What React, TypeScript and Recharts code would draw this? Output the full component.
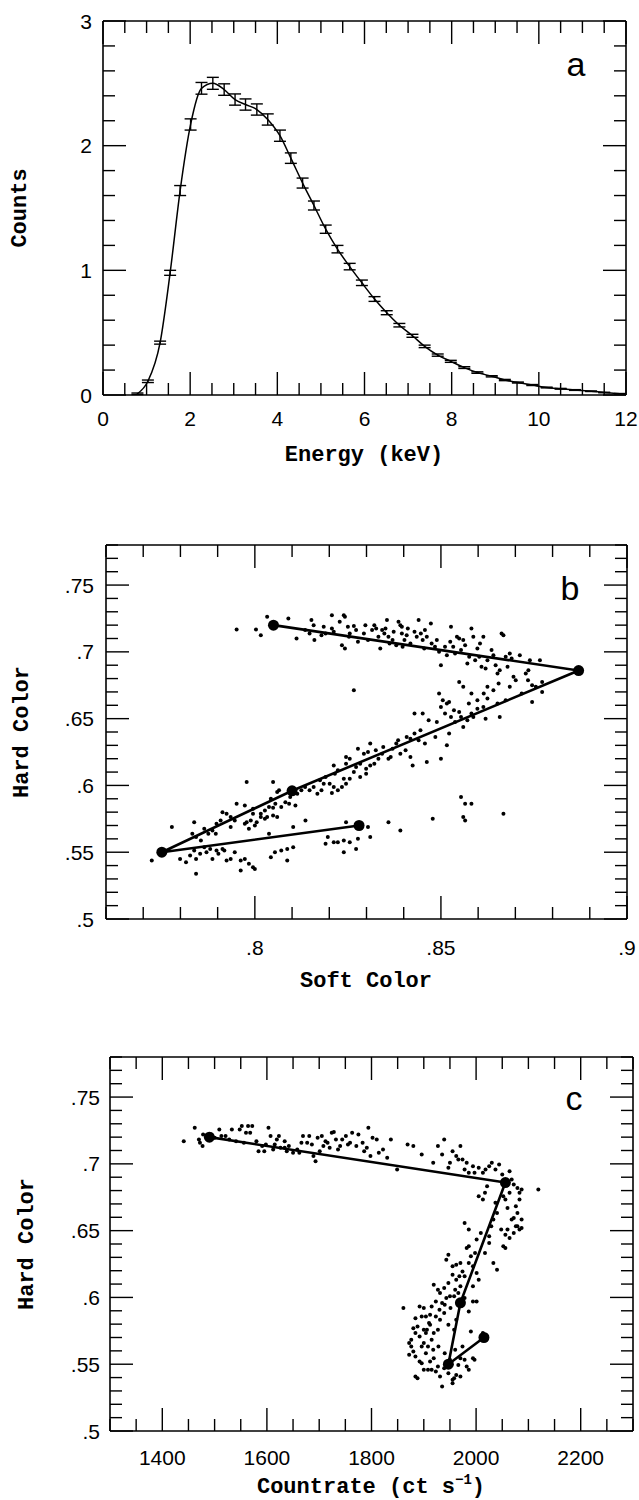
import React from 'react'
import { ComposedChart, ScatterChart, Line, ErrorBar, Scatter, XAxis, YAxis } from 'recharts'

// panel a: spectrum (keV, counts, 1-sigma error)
const energyKeV = [0.79, 1.03, 1.31, 1.54, 1.77, 2.01, 2.26, 2.52, 2.78, 3.03, 3.27, 3.53, 3.78, 4.06, 4.31, 4.58, 4.84, 5.11, 5.38, 5.66, 5.94, 6.23, 6.51, 6.8, 7.1, 7.38, 7.68, 7.98, 8.29, 8.59, 8.92, 9.22, 9.52, 9.85, 10.18, 10.5, 10.83, 11.2, 11.5, 11.86]
const counts = [0.01, 0.11, 0.42, 0.98, 1.64, 2.17, 2.46, 2.5, 2.45, 2.37, 2.33, 2.29, 2.21, 2.08, 1.9, 1.7, 1.52, 1.33, 1.17, 1.03, 0.9, 0.77, 0.66, 0.56, 0.475, 0.39, 0.32, 0.27, 0.22, 0.18, 0.15, 0.12, 0.1, 0.08, 0.06, 0.05, 0.04, 0.03, 0.02, 0.01]
const countsErr = [0.006, 0.01, 0.012, 0.02, 0.04, 0.045, 0.047, 0.048, 0.046, 0.045, 0.045, 0.045, 0.045, 0.045, 0.042, 0.04, 0.036, 0.033, 0.03, 0.026, 0.022, 0.019, 0.016, 0.014, 0.012, 0.01, 0.009, 0.008, 0.007, 0.006, 0.005, 0.005, 0.004, 0.004, 0.003, 0.003, 0.003, 0.002, 0.002, 0.002]

// panel b: soft colour vs hard colour
const colorB: [number, number][] = [
  [0.7951, 0.7168], [0.8003, 0.7168], [0.8016, 0.7125], [0.8033, 0.7263], [0.809, 0.725], [0.8112, 0.71], [0.8152, 0.7238], [0.8158, 0.72],
  [0.8147, 0.7138], [0.816, 0.7088], [0.8179, 0.7125], [0.819, 0.7138], [0.8207, 0.7175], [0.8207, 0.7275], [0.8212, 0.715], [0.8228, 0.7225],
  [0.8239, 0.7275], [0.8242, 0.7263], [0.8234, 0.705], [0.8242, 0.7025], [0.825, 0.7188], [0.8253, 0.7113], [0.8266, 0.7193], [0.8272, 0.7163],
  [0.8277, 0.7075], [0.8293, 0.7138], [0.8297, 0.72], [0.8304, 0.7088], [0.8321, 0.72], [0.8326, 0.7175], [0.8332, 0.7113], [0.8337, 0.7025],
  [0.8342, 0.7163], [0.8348, 0.7138], [0.8351, 0.7175], [0.8359, 0.7113], [0.8362, 0.7063], [0.837, 0.7088], [0.8373, 0.715], [0.838, 0.705],
  [0.8386, 0.7225], [0.8391, 0.72], [0.8395, 0.7138], [0.8397, 0.7038], [0.8402, 0.7088], [0.8408, 0.7125], [0.8411, 0.7175], [0.8418, 0.7063],
  [0.8429, 0.715], [0.8435, 0.7113], [0.844, 0.7238], [0.8446, 0.7138], [0.8451, 0.7088], [0.8457, 0.7163], [0.8462, 0.7113], [0.8473, 0.7213],
  [0.8475, 0.7063], [0.8484, 0.7038], [0.8489, 0.7088], [0.8495, 0.7], [0.85, 0.69], [0.8511, 0.7038], [0.8516, 0.6975], [0.8527, 0.7188],
  [0.8533, 0.7038], [0.8538, 0.6988], [0.8543, 0.7113], [0.8549, 0.71], [0.8554, 0.7013], [0.856, 0.7088], [0.8565, 0.705], [0.8571, 0.6913],
  [0.8576, 0.6963], [0.8582, 0.7175], [0.8587, 0.7113], [0.8592, 0.6938], [0.8598, 0.7025], [0.8603, 0.6963], [0.8609, 0.6888], [0.8614, 0.7113],
  [0.862, 0.6875], [0.8625, 0.6938], [0.8636, 0.7013], [0.8641, 0.6975], [0.8647, 0.69], [0.8652, 0.6838], [0.8658, 0.6863], [0.8663, 0.7138],
  [0.8668, 0.7125], [0.8674, 0.6963], [0.8679, 0.6888], [0.8685, 0.6988], [0.869, 0.695], [0.8701, 0.6788], [0.8712, 0.6975], [0.8728, 0.6838],
  [0.8734, 0.6788], [0.8739, 0.6938], [0.8745, 0.675], [0.8772, 0.6775], [0.8772, 0.67], [0.8766, 0.6938],
  [0.8549, 0.6775], [0.856, 0.6738], [0.8582, 0.6688], [0.8598, 0.6638], [0.8625, 0.665], [0.8614, 0.6588], [0.8658, 0.6513], [0.8652, 0.6613],
  [0.8582, 0.6538], [0.8598, 0.6575], [0.8625, 0.6738], [0.8641, 0.6713], [0.8674, 0.6638], [0.8717, 0.6688], [0.8745, 0.6625], [0.8685, 0.6738],
  [0.8495, 0.6688], [0.8505, 0.6638], [0.8516, 0.6613], [0.85, 0.6588], [0.8511, 0.6538], [0.8522, 0.6625], [0.8429, 0.6538], [0.8451, 0.6538],
  [0.8467, 0.6488], [0.8489, 0.6475], [0.8527, 0.6513], [0.8538, 0.6475], [0.8554, 0.6513], [0.8549, 0.655], [0.856, 0.6438], [0.8571, 0.6488],
  [0.8587, 0.6513], [0.862, 0.65], [0.8522, 0.6388], [0.8516, 0.63], [0.85, 0.62], [0.8462, 0.6175], [0.8429, 0.6388], [0.844, 0.6338],
  [0.8457, 0.6313], [0.8418, 0.635], [0.8408, 0.6363], [0.838, 0.6313], [0.837, 0.6275], [0.8391, 0.6238], [0.8418, 0.6213], [0.8424, 0.615],
  [0.8342, 0.6238], [0.8359, 0.62], [0.8332, 0.62], [0.8321, 0.6163], [0.831, 0.615], [0.8299, 0.6125], [0.8283, 0.6163], [0.8272, 0.6138],
  [0.8293, 0.6238], [0.8277, 0.6275], [0.831, 0.6313], [0.8304, 0.625], [0.8255, 0.62], [0.8245, 0.6163], [0.8266, 0.61], [0.8283, 0.6063],
  [0.8299, 0.6088], [0.8255, 0.605], [0.8239, 0.605], [0.8245, 0.6013], [0.8234, 0.5988], [0.8223, 0.5963], [0.8212, 0.5988], [0.8207, 0.5943],
  [0.8201, 0.6013], [0.8212, 0.615], [0.8223, 0.6113], [0.819, 0.6063], [0.8185, 0.6013], [0.8179, 0.5963], [0.8168, 0.5938], [0.8158, 0.5988],
  [0.8147, 0.5963], [0.8125, 0.5963], [0.8114, 0.5938], [0.8109, 0.585], [0.8092, 0.5863], [0.8082, 0.5875], [0.8071, 0.5838], [0.806, 0.595],
  [0.8049, 0.6025], [0.8043, 0.59], [0.8038, 0.5838], [0.8027, 0.5813], [0.8016, 0.5788], [0.8005, 0.5725], [0.7995, 0.5825], [0.7989, 0.5738],
  [0.7978, 0.5725], [0.7973, 0.5713], [0.7984, 0.5675], [0.8, 0.57], [0.8016, 0.5763], [0.8033, 0.5763], [0.8049, 0.5775], [0.806, 0.5763],
  [0.8065, 0.5963], [0.8049, 0.5833], [0.8027, 0.575], [0.7973, 0.585], [0.7978, 0.6025], [0.7951, 0.5863], [0.7946, 0.5738], [0.7935, 0.5763],
  [0.7924, 0.5788], [0.7913, 0.58], [0.7908, 0.5738], [0.7897, 0.5713], [0.7886, 0.5663], [0.7875, 0.5638], [0.7864, 0.5675], [0.7842, 0.5613],
  [0.7837, 0.5725], [0.7832, 0.5638], [0.7864, 0.5538], [0.7853, 0.5488], [0.7842, 0.545], [0.7837, 0.5513], [0.787, 0.55], [0.788, 0.5525],
  [0.7886, 0.545], [0.7897, 0.5513], [0.7902, 0.5488], [0.7913, 0.5525], [0.7918, 0.5513], [0.7924, 0.5438], [0.7935, 0.545], [0.7946, 0.55],
  [0.7962, 0.5438], [0.7973, 0.545], [0.7984, 0.5413], [0.7995, 0.5388], [0.7962, 0.5363], [0.8, 0.5375], [0.8038, 0.5638], [0.8043, 0.5463],
  [0.8054, 0.55], [0.8071, 0.5513], [0.8087, 0.5525], [0.8103, 0.5688], [0.8136, 0.5738], [0.8087, 0.5438], [0.8103, 0.5538], [0.7799, 0.545],
  [0.7815, 0.5425], [0.7777, 0.5688], [0.7723, 0.5438], [0.7826, 0.5475], [0.7842, 0.5338], [0.819, 0.5563], [0.8196, 0.5613], [0.8212, 0.5575],
  [0.8223, 0.5575], [0.8239, 0.5588], [0.8245, 0.5725], [0.8239, 0.55], [0.8255, 0.5575], [0.8272, 0.5525], [0.8277, 0.56], [0.8304, 0.5688],
  [0.831, 0.5613], [0.8359, 0.5725], [0.8391, 0.5663], [0.8478, 0.575], [0.8554, 0.5913], [0.8565, 0.5863], [0.8582, 0.5863], [0.856, 0.5763],
  [0.8565, 0.5738], [0.8668, 0.5788], [0.8266, 0.6713], [0.8755, 0.6738],
  [0.8325, 0.6263], [0.8345, 0.6288], [0.8365, 0.6213], [0.8385, 0.6338], [0.8215, 0.6088], [0.8175, 0.6038], [0.8135, 0.5988], [0.8245, 0.6213],
  [0.8095, 0.5913], [0.8055, 0.5863], [0.7995, 0.5788], [0.7935, 0.5688], [0.7895, 0.5638], [0.7855, 0.5588], [0.8405, 0.6263], [0.8445, 0.6413],
  [0.8485, 0.6363], [0.8535, 0.6563], [0.8575, 0.6613], [0.8615, 0.6688], [0.8655, 0.6763], [0.8695, 0.6813], [0.8735, 0.6863], [0.8395, 0.7188],
  [0.8315, 0.7163], [0.8255, 0.7138], [0.8355, 0.7238], [0.8455, 0.7025], [0.8525, 0.7075], [0.8605, 0.7063], [0.8185, 0.7188], [0.8135, 0.7163],
]

// panel c: countrate vs hard colour
const colorC: [number, number][] = [
  [1441, 0.717], [1462, 0.727], [1470, 0.7183], [1477, 0.7133], [1478, 0.722], [1486, 0.7208], [1494, 0.722], [1509, 0.7258],
  [1521, 0.7208], [1533, 0.7258], [1541, 0.717], [1548, 0.7258], [1552, 0.7283], [1560, 0.7233], [1564, 0.7283], [1568, 0.7233],
  [1572, 0.7283], [1580, 0.717], [1584, 0.7095], [1591, 0.7133], [1603, 0.727], [1607, 0.7208], [1615, 0.7145], [1619, 0.7183],
  [1623, 0.7208], [1626, 0.712], [1634, 0.717], [1642, 0.7133], [1650, 0.7083], [1658, 0.7108], [1666, 0.7158], [1669, 0.7208],
  [1677, 0.7158], [1681, 0.7208], [1689, 0.7058], [1693, 0.702], [1697, 0.7195], [1705, 0.7208], [1712, 0.717], [1716, 0.7158],
  [1720, 0.712], [1724, 0.7233], [1728, 0.7238], [1732, 0.7183], [1740, 0.7133], [1744, 0.7183], [1751, 0.7208], [1763, 0.7233],
  [1771, 0.7133], [1783, 0.7158], [1791, 0.712], [1794, 0.727], [1798, 0.7058], [1802, 0.7195], [1814, 0.7083], [1822, 0.7108],
  [1837, 0.7183], [1849, 0.6958], [1869, 0.7145], [1880, 0.7133], [1896, 0.707], [1927, 0.7133], [1935, 0.707], [1939, 0.7183],
  [1947, 0.697], [1955, 0.7095], [1966, 0.7033], [1970, 0.7133], [1974, 0.7033], [1978, 0.6958], [1986, 0.6933], [1997, 0.6933],
  [2005, 0.697], [2013, 0.6933], [2025, 0.6983], [2037, 0.6958], [2044, 0.6995], [2064, 0.6945], [2068, 0.6883], [1513, 0.7208],
  [1595, 0.7095], [1634, 0.712], [1701, 0.7095], [1759, 0.7158], [1775, 0.722], [1962, 0.7058], [1994, 0.6983],
  [1472, 0.7158], [1500, 0.7195], [1528, 0.7183], [1556, 0.7158], [1598, 0.7145], [1612, 0.7108], [1638, 0.7095], [1662, 0.7083],
  [1686, 0.7145], [1708, 0.7133], [1736, 0.7108], [1755, 0.7145], [1786, 0.7095], [1810, 0.7183], [1830, 0.7045], [1918, 0.7008],
  [1950, 0.7008], [1982, 0.7008], [2018, 0.6958], [2030, 0.7008], [2050, 0.6920],
  [2072, 0.6845], [2079, 0.682], [2083, 0.6783], [2087, 0.6808], [2083, 0.6733], [2076, 0.6683], [2079, 0.6633], [2087, 0.6583],
  [2083, 0.6508], [2072, 0.6483], [2064, 0.6445], [2076, 0.6533], [2068, 0.6583], [2060, 0.6508], [2056, 0.647], [2048, 0.6508],
  [2052, 0.6383], [2056, 0.637], [2060, 0.667], [2056, 0.6733], [2064, 0.6783], [2052, 0.6758], [2040, 0.6633], [2037, 0.6708],
  [2033, 0.6583], [2029, 0.6533], [2025, 0.6458], [2017, 0.6783], [2013, 0.6733], [2005, 0.6758], [2021, 0.6833], [2119, 0.6808],
  [2072, 0.6595], [2079, 0.6533], [2087, 0.652], [2033, 0.6258], [2040, 0.6208], [2025, 0.6408], [2017, 0.6333], [2009, 0.6483],
  [2001, 0.6433], [1978, 0.6558], [1986, 0.6508],
  [1947, 0.632], [1943, 0.6283], [1955, 0.6233], [1962, 0.6245], [1970, 0.6258], [1974, 0.6195], [1982, 0.637], [1986, 0.6383],
  [1990, 0.6308], [1994, 0.6233], [2001, 0.6183], [2005, 0.6133], [1994, 0.6083], [1978, 0.6158], [1970, 0.6083], [1962, 0.6133],
  [1955, 0.617], [1947, 0.6108], [1939, 0.607], [1931, 0.6033], [1927, 0.6058], [1923, 0.597], [1919, 0.6095], [1915, 0.5933],
  [1935, 0.5958], [1943, 0.5995], [1951, 0.592], [1958, 0.6008], [1966, 0.6033], [1978, 0.5995], [1994, 0.597], [1986, 0.5895],
  [1962, 0.5833], [1958, 0.5758], [1947, 0.5795], [1939, 0.5883], [1931, 0.5833], [1923, 0.5858], [1912, 0.587], [1904, 0.5858],
  [1900, 0.592], [1892, 0.5933], [1884, 0.5845], [1888, 0.5783], [1900, 0.5758], [1912, 0.5795], [1919, 0.5733], [1927, 0.5758],
  [1915, 0.5683], [1908, 0.5633], [1900, 0.5658], [1892, 0.5708], [1884, 0.5733], [1880, 0.577], [1861, 0.592], [1876, 0.5683],
  [1876, 0.5633], [1880, 0.5595], [1884, 0.5558], [1892, 0.552], [1904, 0.5583], [1912, 0.552], [1919, 0.5545], [1927, 0.5483],
  [1915, 0.5458], [1923, 0.5445], [1931, 0.5408], [1939, 0.547], [1947, 0.5433], [1955, 0.5383], [1962, 0.542], [1966, 0.5495],
  [1970, 0.5545], [1974, 0.5633], [1978, 0.5533], [1982, 0.5483], [1990, 0.5745], [1994, 0.5545], [1997, 0.5533], [1986, 0.5458],
  [1884, 0.5408], [1888, 0.5395], [1900, 0.5458], [1908, 0.5458], [1935, 0.5333], [1955, 0.5358], [1958, 0.5395], [1970, 0.5408],
  [2013, 0.5733], [2017, 0.5695], [1896, 0.5633], [1904, 0.5733], [1872, 0.557], [1872, 0.5658], [2001, 0.597],
  [1968, 0.6158], [1960, 0.6058], [1950, 0.6008], [1940, 0.5945], [1930, 0.5908], [1910, 0.5808], [1896, 0.5858], [1906, 0.5758],
  [1918, 0.5608], [1928, 0.5633], [1940, 0.5583], [1950, 0.5533], [1960, 0.5608], [1896, 0.5508], [1986, 0.6258], [1998, 0.6333],
]

// mean track drawn over both colour diagrams
const trackSoft = [0.805, 0.887, 0.81, 0.775, 0.828]
const trackRate = [1490, 2056, 1970, 1947, 2015]
const trackHard = [0.72, 0.686, 0.596, 0.55, 0.57]

const spectrum = energyKeV.map((e, i) => ({ e, c: counts[i], err: countsErr[i] }))
const pointsB = colorB.map(([x, y]) => ({ x, y }))
const pointsC = colorC.map(([x, y]) => ({ x, y }))
const trackB = trackSoft.map((x, i) => ({ x, y: trackHard[i] }))
const trackC = trackRate.map((x, i) => ({ x, y: trackHard[i] }))

const range = (from: number, to: number, step: number) => {
  const out: number[] = []
  for (let i = 0; from + i * step <= to + 1e-9; i++) out.push(+(from + i * step).toFixed(4))
  return out
}
const dropZero = (v: number) => String(v).replace(/^0\./, '.')

const TICK = { fontFamily: '"Liberation Sans", Arial, sans-serif', fontSize: 21, fill: '#000' }
const TITLE = { fontFamily: '"Liberation Mono", "Courier New", monospace', fontSize: 22, fontWeight: 700, fill: '#000' }
const TAG = { fontFamily: '"Liberation Sans", Arial, sans-serif', fontSize: 34, fill: '#000' }
const AXIS_LINE = { stroke: '#000', strokeWidth: 1.6 }

type Side = 'bottom' | 'top' | 'left' | 'right'
interface AxisSpec {
  domain: [number, number]
  ticks: number[]
  majors: number[]
  fmt: (v: number) => string
  gap: number
}

const has = (list: number[], v: number) => list.some((m) => Math.abs(m - v) < 1e-6)

// ticks point inward; the axis band is 1px so every tick starts on the frame
function tickFor(side: Side, spec: AxisSpec, labelled: boolean) {
  return (props: any) => {
    const { x, y, payload } = props
    const v = payload.value
    const major = has(spec.majors, v)
    const len = major ? 23 : 12
    const d = { bottom: [0, -len], top: [0, len], left: [len, 0], right: [-len, 0] }[side]
    let label = null
    if (labelled && major) {
      label =
        side === 'bottom' ? (
          <text x={x} y={y + spec.gap} textAnchor="middle" {...TICK}>{spec.fmt(v)}</text>
        ) : (
          <text x={x - spec.gap} y={y} dy="0.36em" textAnchor="end" {...TICK}>{spec.fmt(v)}</text>
        )
    }
    return (
      <g>
        <line x1={x} y1={y} x2={x + d[0]} y2={y + d[1]} stroke="#000" strokeWidth={1.4} />
        {label}
      </g>
    )
  }
}

function frameAxes(xs: AxisSpec, ys: AxisSpec, xKey: string, yKey: string) {
  const common = {
    type: 'number' as const,
    allowDataOverflow: true,
    interval: 0 as const,
    tickSize: 0,
    tickMargin: 0,
    tickLine: false,
    axisLine: AXIS_LINE,
  }
  return [
    <XAxis key="xb" xAxisId="x" orientation="bottom" dataKey={xKey} height={1} domain={xs.domain} ticks={xs.ticks} tick={tickFor('bottom', xs, true)} {...common} />,
    <XAxis key="xt" xAxisId="t" orientation="top" dataKey={xKey} height={1} domain={xs.domain} ticks={xs.ticks} tick={tickFor('top', xs, false)} {...common} />,
    <YAxis key="yl" yAxisId="y" orientation="left" dataKey={yKey} width={1} domain={ys.domain} ticks={ys.ticks} tick={tickFor('left', ys, true)} {...common} />,
    <YAxis key="yr" yAxisId="r" orientation="right" dataKey={yKey} width={1} domain={ys.domain} ticks={ys.ticks} tick={tickFor('right', ys, false)} {...common} />,
  ]
}

const energyAxis: AxisSpec = { domain: [0, 12], ticks: range(0, 12, 0.5), majors: [0, 2, 4, 6, 8, 10, 12], fmt: String, gap: 31 }
const countsAxis: AxisSpec = { domain: [0, 3], ticks: range(0, 3, 0.2), majors: [0, 1, 2, 3], fmt: String, gap: 11 }
const softAxis: AxisSpec = { domain: [0.76, 0.9], ticks: range(0.76, 0.9, 0.01), majors: [0.8, 0.85, 0.9], fmt: dropZero, gap: 36 }
const hardAxis: AxisSpec = { domain: [0.5, 0.78], ticks: range(0.5, 0.78, 0.01), majors: [0.5, 0.55, 0.6, 0.65, 0.7, 0.75], fmt: dropZero, gap: 12 }
const hardAxisC: AxisSpec = { ...hardAxis, gap: 10 }
const rateAxis: AxisSpec = { domain: [1300, 2300], ticks: range(1300, 2300, 50), majors: [1400, 1600, 1800, 2000, 2200], fmt: String, gap: 34 }

const smallDot = (p: any) => <circle cx={p.cx} cy={p.cy} r={2} fill="#000" />
const bigDot = (p: any) => <circle cx={p.cx} cy={p.cy} r={5.5} fill="#000" />
const trackLine = { stroke: '#000', strokeWidth: 2.6 }

const place = (top: number): React.CSSProperties => ({ position: 'absolute', left: 0, top })

export default function App() {
  return (
    <div style={{ position: 'absolute', left: 0, top: 0, width: 639, height: 1500, background: '#fff' }}>
      <div style={place(0)}>
        <ComposedChart width={639} height={475} data={spectrum} margin={{ top: 20, right: 12, bottom: 79, left: 102 }}>
          {frameAxes(energyAxis, countsAxis, 'e', 'c')}
          <Line xAxisId="x" yAxisId="y" dataKey="c" type="monotone" stroke="#000" strokeWidth={1.5} dot={false} isAnimationActive={false}>
            <ErrorBar dataKey="err" width={6} stroke="#000" strokeWidth={1.4} direction="y" isAnimationActive={false} />
          </Line>
        </ComposedChart>
      </div>

      <div style={place(500)}>
        <ScatterChart width={639} height={500} margin={{ top: 44, right: 11, bottom: 80, left: 105 }}>
          {frameAxes(softAxis, hardAxis, 'x', 'y')}
          <Scatter xAxisId="x" yAxisId="y" data={pointsB} shape={smallDot} isAnimationActive={false} />
          <Scatter xAxisId="x" yAxisId="y" data={trackB} shape={bigDot} line={trackLine} isAnimationActive={false} />
        </ScatterChart>
      </div>

      <div style={place(1000)}>
        <ScatterChart width={639} height={500} margin={{ top: 56, right: 5, bottom: 68, left: 109 }}>
          {frameAxes(rateAxis, hardAxisC, 'x', 'y')}
          <Scatter xAxisId="x" yAxisId="y" data={pointsC} shape={smallDot} isAnimationActive={false} />
          <Scatter xAxisId="x" yAxisId="y" data={trackC} shape={bigDot} line={trackLine} isAnimationActive={false} />
        </ScatterChart>
      </div>

      <svg width={639} height={1500} style={{ position: 'absolute', left: 0, top: 0, pointerEvents: 'none' }}>
        <text x={20} y={208} transform="rotate(-90 20 208)" textAnchor="middle" dominantBaseline="central" {...TITLE}>Counts</text>
        <text x={364} y={461} textAnchor="middle" {...TITLE}>Energy (keV)</text>
        <text x={576} y={76} textAnchor="middle" {...TAG}>a</text>

        <text x={22} y={732} transform="rotate(-90 22 732)" textAnchor="middle" dominantBaseline="central" {...TITLE}>Hard Color</text>
        <text x={366} y={987} textAnchor="middle" {...TITLE}>Soft Color</text>
        <text x={570} y={600} textAnchor="middle" {...TAG}>b</text>

        <text x={27} y={1244} transform="rotate(-90 27 1244)" textAnchor="middle" dominantBaseline="central" {...TITLE}>Hard Color</text>
        <text x={371} y={1493} textAnchor="middle" {...TITLE}>
          Countrate (ct s<tspan dy={-9} fontSize={14}>−1</tspan><tspan dy={9}>)</tspan>
        </text>
        <text x={574} y={1110} textAnchor="middle" {...TAG}>c</text>
      </svg>
    </div>
  )
}
